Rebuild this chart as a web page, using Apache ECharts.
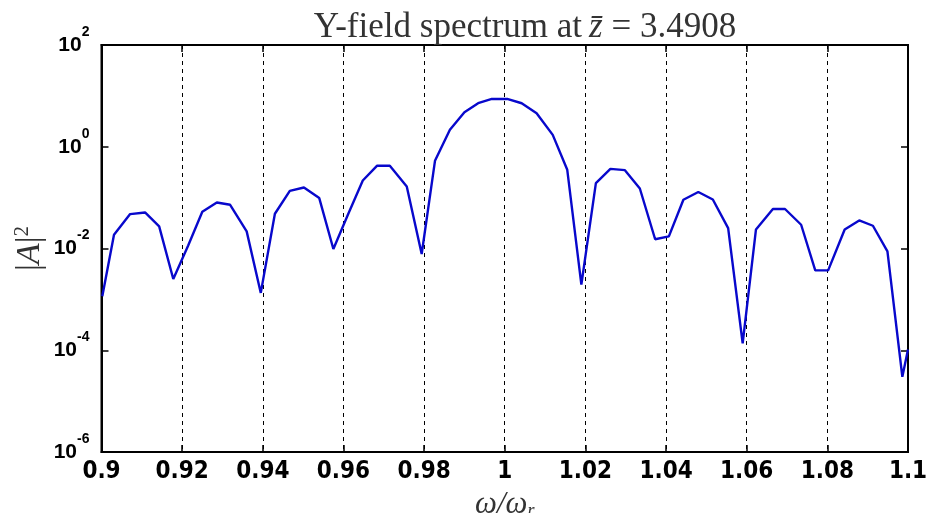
<!DOCTYPE html>
<html>
<head>
<meta charset="utf-8">
<script src="https://cdn.jsdelivr.net/npm/echarts@6/dist/echarts.min.js"></script>
<style>
  html, body { margin: 0; padding: 0; background: #fff; }
  #chart { width: 926px; height: 513px; }
</style>
</head>
<body>
<div id="chart"></div>
<script>
// frequency samples (omega / omega_r) and spectrum |A|^2
const omega = [
  0.9002, 0.9031, 0.9071, 0.9108, 0.9143, 0.9178, 0.9215, 0.9250, 0.9286, 0.9319,
  0.9360, 0.9395, 0.9430, 0.9467, 0.9502, 0.9540, 0.9575, 0.9611, 0.9648, 0.9683,
  0.9715, 0.9757, 0.9794, 0.9827, 0.9864, 0.9900, 0.9934, 0.9968, 1.0006, 1.0042,
  1.0079, 1.0119, 1.0155, 1.0190, 1.0226, 1.0262, 1.0298, 1.0335, 1.0373, 1.0407,
  1.0443, 1.0480, 1.0516, 1.0554, 1.0590, 1.0623, 1.0665, 1.0695, 1.0735, 1.0770,
  1.0802, 1.0843, 1.0879, 1.0913, 1.0949, 1.0986, 1.1000
];
const power = [
  1.15e-3, 1.87e-2, 4.75e-2, 5.11e-2, 2.72e-2, 2.52e-3, 1.15e-2, 5.27e-2, 8.04e-2, 7.24e-2,
  2.17e-2, 1.34e-3, 4.82e-2, 0.136, 0.158, 9.80e-2, 9.77e-3, 4.61e-2, 0.217, 0.422,
  0.422, 0.166, 7.80e-3, 0.529, 2.15, 4.77, 7.17, 8.71, 8.71, 7.17,
  4.56, 1.71, 0.352, 1.95e-3, 0.193, 0.368, 0.347, 0.151, 1.52e-2, 1.73e-2,
  9.08e-2, 0.129, 9.20e-2, 2.52e-2, 1.36e-4, 2.37e-2, 5.98e-2, 5.98e-2, 2.93e-2, 3.72e-3,
  3.72e-3, 2.37e-2, 3.56e-2, 2.80e-2, 8.77e-3, 3.01e-5, 1.03e-4
];
const xTicks = [0.9, 1.1, 0.02];      // min, max, step
const yExpRange = [-6, 2, 2];         // log10 min, max, step

const chart = echarts.init(document.getElementById('chart'));
const sansB = '"Liberation Sans Narrow", "DejaVu Sans Condensed", "Liberation Sans", Arial, sans-serif';
const serif = '"Liberation Serif", "DejaVu Serif", serif';

chart.setOption({
  animation: false,
  backgroundColor: '#fff',
  title: {
    text: 'Y-field spectrum at\u2009{i|z\u0304}{n| = 3.4908}',
    left: 520,
    top: 5,
    textAlign: 'center',
    textStyle: {
      fontFamily: serif, fontSize: 35, fontWeight: 'normal', color: '#333',
      rich: {
        i: {fontFamily: serif, fontSize: 35, fontStyle: 'italic', color: '#333'},
        n: {fontFamily: serif, fontSize: 35, color: '#333'}
      }
    }
  },
  grid: {
    left: 101.5, right: 18, top: 45, bottom: 61,
    outerBoundsMode: 'none',
    show: true, borderColor: '#000', borderWidth: 2
  },
  xAxis: [{
    type: 'value',
    min: xTicks[0], max: xTicks[1], interval: xTicks[2],
    name: '{i|\u03c9/\u03c9}{s|r}',
    nameLocation: 'middle',
    nameGap: 30,
    nameTextStyle: {
      rich: {
        i: {fontFamily: serif, fontSize: 31, fontStyle: 'italic', color: '#333'},
        s: {fontFamily: serif, fontSize: 18, fontStyle: 'italic', color: '#333', verticalAlign: 'bottom', lineHeight: 22}
      }
    },
    axisLine: {show: true, lineStyle: {color: '#000', width: 2}},
    axisTick: {inside: true, length: 7, lineStyle: {color: '#000', width: 1.5}},
    axisLabel: {
      margin: 8, color: '#000', fontSize: 24, fontWeight: 'bold', fontFamily: sansB,
      formatter: v => String(+v.toFixed(2))
    },
    splitLine: {show: true, lineStyle: {color: '#000', width: 1, type: [4, 4]}}
  }, {
    type: 'value', position: 'top',
    min: xTicks[0], max: xTicks[1], interval: xTicks[2],
    axisLine: {show: true, lineStyle: {color: '#000', width: 2}},
    axisTick: {inside: true, length: 7, lineStyle: {color: '#000', width: 1.5}},
    axisLabel: {show: false},
    splitLine: {show: false}
  }],
  yAxis: [{
    type: 'log', logBase: 10,
    min: Math.pow(10, yExpRange[0]), max: Math.pow(10, yExpRange[1]), interval: yExpRange[2],
    name: '{n||}{i|A}{n||}{s|2}',
    nameLocation: 'middle',
    nameGap: 52,
    nameMoveOverlap: false,
    nameRotate: 90,
    nameTextStyle: {
      rich: {
        n: {fontFamily: serif, fontSize: 34, color: '#333', lineHeight: 38},
        i: {fontFamily: serif, fontSize: 34, fontStyle: 'italic', color: '#333', lineHeight: 38},
        s: {fontFamily: serif, fontSize: 21, color: '#333', verticalAlign: 'top', lineHeight: 22}
      }
    },
    axisLine: {show: true, lineStyle: {color: '#000', width: 2}},
    axisTick: {inside: true, length: 7, lineStyle: {color: '#000', width: 1.5}},
    axisLabel: {
      margin: 12, color: '#000',
      formatter: v => '{b|10}{s|' + Math.round(Math.log10(v)) + '}',
      rich: {
        b: {fontSize: 21, fontWeight: 'bold', fontFamily: '"Liberation Sans", Arial, sans-serif', color: '#000', lineHeight: 40},
        s: {fontSize: 14, fontWeight: 'bold', fontFamily: '"Liberation Sans", Arial, sans-serif', color: '#000', verticalAlign: 'top', lineHeight: 14}
      }
    },
    splitLine: {show: false}
  }, {
    type: 'log', logBase: 10, position: 'right',
    min: Math.pow(10, yExpRange[0]), max: Math.pow(10, yExpRange[1]), interval: yExpRange[2],
    axisLine: {show: true, lineStyle: {color: '#000', width: 2}},
    axisTick: {inside: true, length: 7, lineStyle: {color: '#000', width: 1.5}},
    axisLabel: {show: false},
    splitLine: {show: false}
  }],
  series: [{
    type: 'line',
    data: omega.map((w, i) => [w, power[i]]),
    showSymbol: false,
    symbol: 'none',
    lineStyle: {color: '#0808cc', width: 2.4},
    z: 3
  }]
});
</script>
</body>
</html>
